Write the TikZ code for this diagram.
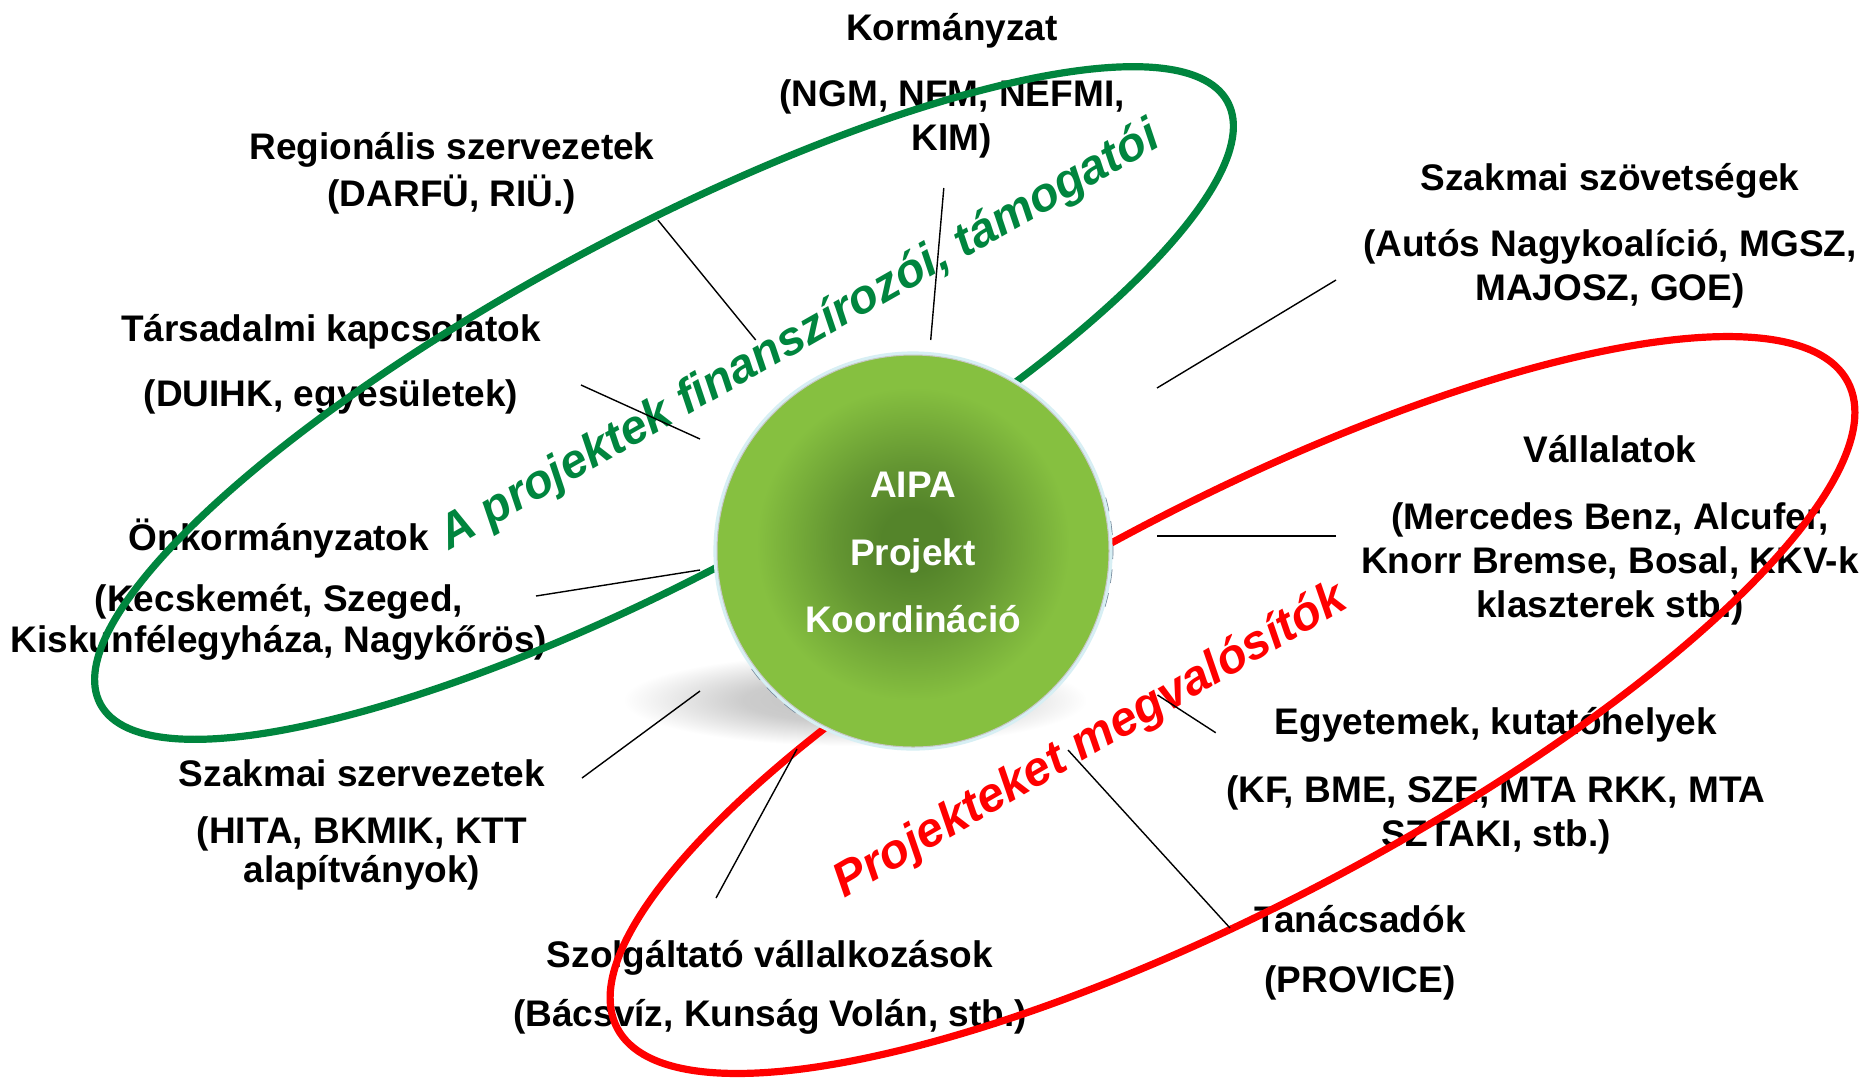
\documentclass[tikz,border=0pt]{standalone}
\usepackage{fontspec}
\setmainfont{Liberation Sans}
\definecolor{aipadark}{RGB}{84,132,42}
\definecolor{aipamid}{RGB}{100,150,50}
\definecolor{aipalight}{RGB}{134,192,64}
\definecolor{agreen}{RGB}{0,133,62}
\definecolor{ared}{RGB}{255,0,0}
\definecolor{glowc}{RGB}{215,239,244}
\definecolor{shc}{gray}{0.76}
\definecolor{shd}{gray}{0.80}
\definecolor{dashc}{RGB}{110,130,150}
\pgfdeclareradialshading{aipashade}{\pgfpoint{0bp}{1.5bp}}{color(0bp)=(aipadark); color(4bp)=(aipadark); color(10bp)=(aipamid); color(20bp)=(aipalight); color(25bp)=(aipalight); color(50bp)=(aipalight)}
\pgfdeclareradialshading{shadowshade}{\pgfpointorigin}{color(0bp)=(shc); color(12bp)=(shd); color(25bp)=(white); color(50bp)=(white)}
\newcommand{\orgfont}{\fontsize{18.5}{22}\selectfont\bfseries}
\newcommand{\labfont}{\fontsize{24.2}{28}\selectfont\bfseries\itshape}
\newcommand{\glabfont}{\fontsize{23.9}{28}\selectfont\bfseries\itshape}
\begin{document}
\begin{tikzpicture}[x=0.5pt,y=-0.5pt,
  org/.style={font=\orgfont, align=center, inner sep=0pt, anchor=north, execute at begin node={\rule{0pt}{18pt}}},
  conn/.style={draw=black, line width=0.7pt},
  ringg/.style={draw=agreen, line width=3.6pt},
  ringr/.style={draw=ared, line width=3.6pt},
  lab/.style={font=\labfont, inner sep=0pt, anchor=base},
  dashedarc/.style={draw=dashc, line width=1.3pt, dash pattern=on 7pt off 5pt}]
\useasboundingbox (0,0) rectangle (1872,1084);
\fill[white] (0,0) rectangle (1872,1084);

% shadow under the central circle
\shade[shading=shadowshade] (855,700) ellipse [x radius=232, y radius=46];

% organisation texts
\node[org] (korm) at (952,13) {Kormányzat\\[11pt](NGM, NFM, NEFMI,\\KIM)};
\node[org] (reg) at (452,132) {Regionális szervezetek\\[1.5pt](DARFÜ, RIÜ.)};
\node[org] (tars) at (331,314) {Társadalmi kapcsolatok\\[10.5pt](DUIHK, egyesületek)};
\node[org] (onk) at (279,518) {Önkormányzatok\\[8.5pt](Kecskemét, Szeged,\\[-1.5pt]Kiskunfélegyháza, Nagykőrös)};
\node[org] (szsz) at (362,759) {Szakmai szervezetek\\[6.8pt](HITA, BKMIK, KTT\\[-2.9pt]alapítványok)};
\node[org] (szolg) at (770,940) {Szolgáltató vállalkozások\\[7.25pt](Bácsvíz, Kunság Volán, stb.)};
\node[org] (tan) at (1360,905) {Tanácsadók\\[7.8pt](PROVICE)};
\node[org] (egy) at (1496,707) {Egyetemek, kutatóhelyek\\[12pt](KF, BME, SZE, MTA RKK, MTA\\SZTAKI, stb.)};
\node[org] (vall) at (1610,435) {Vállalatok\\[11.5pt](Mercedes Benz, Alcufer,\\Knorr Bremse, Bosal, KKV-k\\klaszterek stb.)};
\node[org] (szov) at (1610,163) {Szakmai szövetségek\\[11pt](Autós Nagykoalíció, MGSZ,\\MAJOSZ, GOE)};

% the two groups
\draw[ringg, rotate around={28.1:(664,403)}] (664,403) ellipse [x radius=639, y radius=170];
\draw[ringr, rotate around={27.7:(1232.5,705)}] (1232.5,705) ellipse [x radius=695, y radius=200];

% central circle
\coordinate (ctr) at (913,551);
\draw[dashedarc] (ctr) ++(-15.5:199) arc[start angle=-15.5, end angle=19, radius=199];
\draw[dashedarc] (ctr) ++(126:199) arc[start angle=126, end angle=146, radius=199];
\draw[draw=glowc, line width=2.6pt] (ctr) circle [radius=197];
\node[circle, minimum size=196pt, inner sep=0pt, shade, shading=aipashade, draw=black!22, line width=0.5pt] (aipa) at (ctr) {};
\node[org, text=white] (aipatext) at (913,472) {AIPA\\[11.75pt]Projekt\\[11.75pt]Koordináció};

% group labels
\node[lab, font=\glabfont, text=agreen, rotate=29.6] (finlab) at (806,348) {A projektek finanszírozói, támogatói};
\node[lab, text=ared, rotate=30] (megvlab) at (1097,753) {Projekteket megvalósítók};

% connectors
\coordinate (k1) at (943.8,188);   \coordinate (k2) at (930.7,340);
\coordinate (r1) at (657.8,220);   \coordinate (r2) at (755.7,340);
\coordinate (t1) at (581,385);     \coordinate (t2) at (700,439);
\coordinate (o1) at (536,596);     \coordinate (o2) at (700,570);
\coordinate (s1) at (582,778);     \coordinate (s2) at (700,691);
\coordinate (sz1) at (716,898);    \coordinate (sz2) at (797,749);
\coordinate (ta1) at (1230,928);   \coordinate (ta2) at (1068,750);
\coordinate (e1) at (1215.7,732.7); \coordinate (e2) at (1157.5,695);
\coordinate (v1) at (1336,536);    \coordinate (v2) at (1157,536);
\coordinate (sv1) at (1336,280);   \coordinate (sv2) at (1157,388);
\draw[conn] (k1) -- (k2);
\draw[conn] (r1) -- (r2);
\draw[conn] (t1) -- (t2);
\draw[conn] (o1) -- (o2);
\draw[conn] (s1) -- (s2);
\draw[conn] (sz1) -- (sz2);
\draw[conn] (ta1) -- (ta2);
\draw[conn] (e1) -- (e2);
\draw[conn] (v1) -- (v2);
\draw[conn] (sv1) -- (sv2);
\end{tikzpicture}
\end{document}
